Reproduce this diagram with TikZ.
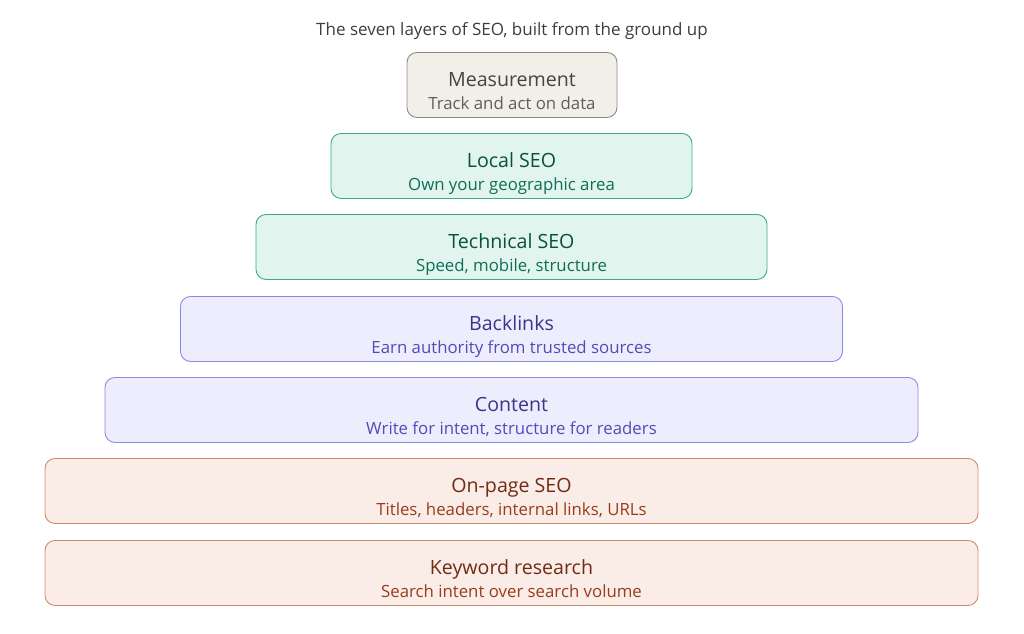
\documentclass[tikz,border=0pt]{standalone}
\usepackage{fontspec}
\setmainfont{Open Sans}
\definecolor{grayfill}{HTML}{F1EFE8}\definecolor{graystroke}{HTML}{8C8A84}
\definecolor{graytitle}{HTML}{444441}\definecolor{graysub}{HTML}{5F5E5A}
\definecolor{greenfill}{HTML}{E1F5EE}\definecolor{greenstroke}{HTML}{3DAA85}
\definecolor{greentitle}{HTML}{085041}\definecolor{greensub}{HTML}{0F6E56}
\definecolor{purplefill}{HTML}{EEEDFE}\definecolor{purplestroke}{HTML}{8F88E0}
\definecolor{purpletitle}{HTML}{3C3489}\definecolor{purplesub}{HTML}{534AB7}
\definecolor{coralfill}{HTML}{FAECE7}\definecolor{coralstroke}{HTML}{D08A70}
\definecolor{coraltitle}{HTML}{712B13}\definecolor{coralsub}{HTML}{993C1D}
\definecolor{headtext}{HTML}{3D3D3A}
\tikzset{
  layer/.style={draw, rounded corners=10pt, line width=0.9pt, minimum height=65pt, inner sep=0pt, anchor=north},
  gray/.style={layer, fill=grayfill, draw=graystroke},
  green/.style={layer, fill=greenfill, draw=greenstroke},
  purple/.style={layer, fill=purplefill, draw=purplestroke},
  coral/.style={layer, fill=coralfill, draw=coralstroke},
  ttl/.style={anchor=base, inner sep=0pt, font=\fontsize{19.6}{23}\selectfont},
  sub/.style={anchor=base, inner sep=0pt, font=\fontsize{16.8}{20}\selectfont},
}
\begin{document}
\begin{tikzpicture}[x=1pt,y=-1pt]
\useasboundingbox (0,0) rectangle (1024,633);
\node[anchor=base, inner sep=0pt, text=headtext, font=\fontsize{17}{20}\selectfont] (head) at (512,35) {The seven layers of SEO, built from the ground up};
% boxes
\node[gray, minimum width=210pt] (m) at (512,52) {};
\node[green, minimum width=361pt] (l) at (511.5,133) {};
\node[green, minimum width=511pt] (t) at (511.5,214) {};
\node[purple, minimum width=662pt] (b) at (511.5,296) {};
\node[purple, minimum width=813pt] (c) at (511.5,377) {};
\node[coral, minimum width=933pt] (o) at (511.5,458) {};
\node[coral, minimum width=933pt] (k) at (511.5,540) {};
% texts
\foreach \n/\t/\s/\col in {m/Measurement/Track and act on data/gray,
  l/Local SEO/Own your geographic area/green,
  t/Technical SEO/{Speed, mobile, structure}/green,
  b/Backlinks/Earn authority from trusted sources/purple,
  c/Content/{Write for intent, structure for readers}/purple,
  o/On-page SEO/{Titles, headers, internal links, URLs}/coral,
  k/Keyword research/Search intent over search volume/coral}{
  \node[ttl, text=\col title] (\n t) at ([yshift=-34.5pt]\n.north) {\t};
  \node[sub, text=\col sub] (\n s) at ([yshift=-57.3pt]\n.north) {\s};
}
\end{tikzpicture}
\end{document}
